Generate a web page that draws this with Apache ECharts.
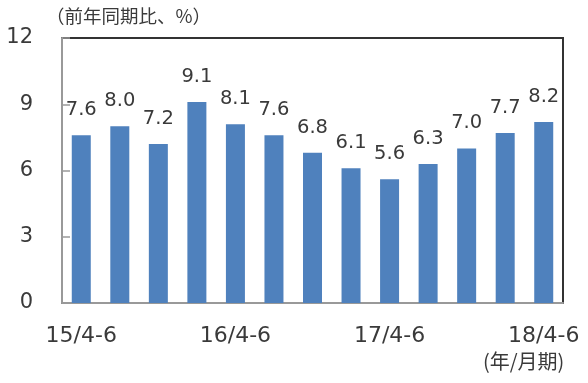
<!DOCTYPE html>
<html><head><meta charset="utf-8">
<script src="https://cdn.jsdelivr.net/npm/echarts@6/dist/echarts.min.js"></script>
<style>html,body{margin:0;padding:0;background:#fff}#c{width:588px;height:383px}</style>
</head><body><div id="c"></div>
<script>
var categories = ['15/4-6','15/7-9','15/10-12','16/1-3','16/4-6','16/7-9','16/10-12','17/1-3','17/4-6','17/7-9','17/10-12','18/1-3','18/4-6'];
var values = [7.6, 8.0, 7.2, 9.1, 8.1, 7.6, 6.8, 6.1, 5.6, 6.3, 7.0, 7.7, 8.2];
var yTicks = [0, 3, 6, 9, 12];
var unitLabel = '（前年同期比、%）';
var periodLabel = '(年/月期)';
var shownLabels = ['15/4-6','16/4-6','17/4-6','18/4-6'];

var numFont = '"DejaVu Sans", sans-serif';
var cjkFont = '"Noto Sans CJK JP", "Noto Sans", sans-serif';
var txt = '#3a3a3a';
var chart = echarts.init(document.getElementById('c'));
chart.setOption({
  animation: false,
  backgroundColor: '#fff',
  grid: {left: 62, right: 25, top: 38, bottom: 80, show: true, borderColor: '#333', borderWidth: 2, containLabel: false},
  graphic: [
    {type: 'text', left: 46, top: 7, style: {text: unitLabel, font: '18.5px ' + cjkFont, fill: txt}},
    {type: 'text', left: 483, top: 351, style: {text: periodLabel, font: '20px ' + cjkFont, fill: txt}}
  ],
  xAxis: {
    type: 'category', data: categories,
    axisLine: {lineStyle: {color: '#999', width: 2}},
    axisTick: {inside: true, length: 7, lineStyle: {color: '#999', width: 1.5}},
    axisLabel: {
      interval: 0, color: txt, fontSize: 22, margin: 22, fontFamily: numFont,
      formatter: function (v) { return shownLabels.indexOf(v) >= 0 ? v : ''; }
    }
  },
  yAxis: {
    type: 'value', min: yTicks[0], max: yTicks[yTicks.length - 1], interval: 3,
    axisLine: {show: true, lineStyle: {color: '#999', width: 2}},
    axisTick: {show: true, inside: true, length: 8, lineStyle: {color: '#999', width: 1.5}},
    splitLine: {show: false},
    axisLabel: {color: txt, fontSize: 21, margin: 29, fontFamily: numFont, padding: [3, 0, 0, 0]}
  },
  series: [{
    type: 'bar', data: values, barWidth: 19,
    itemStyle: {color: '#4f81bd'},
    label: {show: true, position: 'top', distance: 15, color: txt, fontSize: 19.5, fontFamily: numFont,
      formatter: function (p) { return p.value.toFixed(1); }}
  }]
});
</script></body></html>
